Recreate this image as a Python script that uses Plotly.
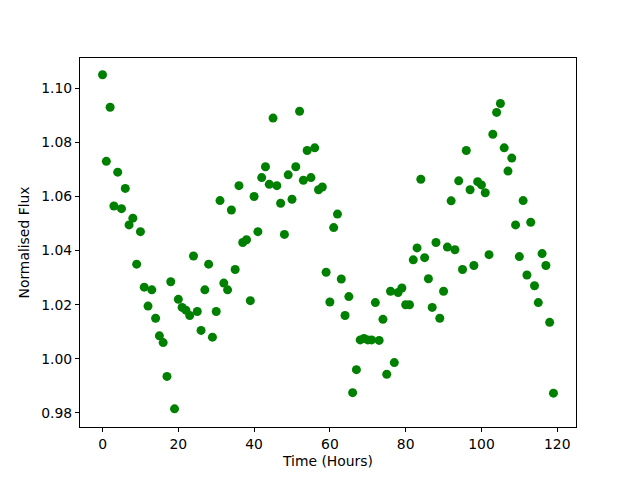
import plotly.graph_objects as go

hours = list(range(120))
flux = [
    1.105, 1.073, 1.093, 1.0565, 1.069, 1.0555, 1.063, 1.0495, 1.052, 1.035,
    1.047, 1.0265, 1.0195, 1.0255, 1.015, 1.0085, 1.006, 0.9935, 1.0285, 0.9815,
    1.022, 1.019, 1.018, 1.016, 1.038, 1.0175, 1.0105, 1.0255, 1.035, 1.008,
    1.0175, 1.0585, 1.028, 1.0255, 1.055, 1.033, 1.064, 1.043, 1.044, 1.0215,
    1.060, 1.047, 1.067, 1.071, 1.0645, 1.089, 1.064, 1.0575, 1.046, 1.068,
    1.059, 1.071, 1.0915, 1.066, 1.077, 1.067, 1.078, 1.0625, 1.0635, 1.032,
    1.021, 1.0485, 1.0535, 1.0295, 1.016, 1.023, 0.9875, 0.996, 1.007, 1.0075,
    1.007, 1.007, 1.0208, 1.0068, 1.0146, 0.9943, 1.0250, 0.9986, 1.0245, 1.0262,
    1.020, 1.020, 1.0366, 1.041, 1.0664, 1.0374, 1.0296, 1.019, 1.043, 1.015,
    1.025, 1.0413, 1.0584, 1.0403, 1.0658, 1.0330, 1.077, 1.0625, 1.0345, 1.0655,
    1.0643, 1.0614, 1.0385, 1.083, 1.0911, 1.0944, 1.078, 1.0694, 1.0742, 1.0495,
    1.0378, 1.0585, 1.031, 1.0505, 1.027, 1.0208, 1.0389, 1.0345, 1.0135, 0.9873,
]
x_ticks = [0, 20, 40, 60, 80, 100, 120]
y_ticks = [0.98, 1.00, 1.02, 1.04, 1.06, 1.08, 1.10]

fig = go.Figure(go.Scatter(
    x=hours, y=flux, mode="markers",
    marker=dict(color="#008000", size=9, line=dict(width=0)),
))

axis_common = dict(
    showgrid=False, zeroline=False, showline=True, linecolor="black", linewidth=1,
    mirror=True, ticks="outside", ticklen=4, tickcolor="black", tickwidth=1,
    automargin=False,
    tickfont=dict(family="DejaVu Sans", size=13.9, color="black"),
)
fig.update_layout(
    width=640, height=480,
    margin=dict(l=80, r=64, t=58, b=53),
    paper_bgcolor="white", plot_bgcolor="white",
    showlegend=False,
    font=dict(family="DejaVu Sans", size=13.9, color="black"),
)
fig.update_xaxes(range=[-5.95, 124.95], tickvals=x_ticks,
                 title=dict(text="Time (Hours)", standoff=5,
                            font=dict(family="DejaVu Sans", size=13.9)),
                 **axis_common)
fig.update_yaxes(range=[0.9748, 1.1112], tickvals=y_ticks, tickformat=".2f",
                 title=dict(text="Normalised Flux", standoff=8,
                            font=dict(family="DejaVu Sans", size=13.9)),
                 **axis_common)

fig.write_html("out.html", config={"displayModeBar": False},
               post_script="document.body.style.margin='0';document.body.style.padding='0';")
